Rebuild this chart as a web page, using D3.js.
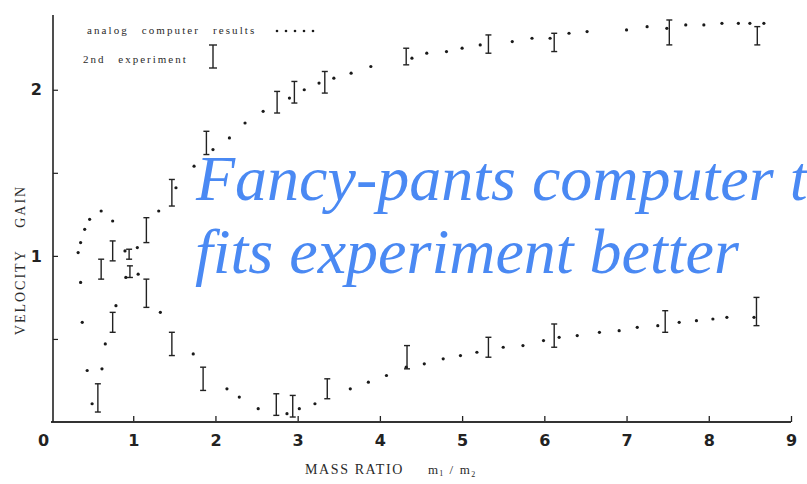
<!DOCTYPE html>
<html>
<head>
<meta charset="utf-8">
<script src="https://cdn.jsdelivr.net/npm/d3@7"></script>
<style>
  body { margin: 0; background: #fff; }
  svg { display: block; }
  .tick text { font-family: "DejaVu Sans", sans-serif; font-weight: bold; font-size: 16px; fill: #222; }
  .scan { font-family: "Liberation Serif", serif; fill: #2a2a2a; white-space: pre; }
</style>
</head>
<body>
<div id="chart"></div>
<script>
// analog computer results, branch rising to ~2.4
const upperRatio = [0.33, 0.36, 0.41, 0.47, 0.61, 0.75, 0.90, 1.05, 1.31, 1.52, 1.74, 1.97, 2.17, 2.36, 2.58, 2.90,
  3.08, 3.26, 3.44, 3.65, 3.89, 4.39, 4.57, 4.81, 5.00, 5.22, 5.61, 5.85, 6.07, 6.30, 6.52, 7.00, 7.25, 7.49,
  7.72, 7.94, 8.16, 8.36, 8.50, 8.67];
const upperGain = [1.02, 1.08, 1.16, 1.22, 1.27, 1.21, 1.03, 1.05, 1.27, 1.41, 1.54, 1.64, 1.71, 1.80, 1.87, 1.95,
  2.00, 2.04, 2.07, 2.10, 2.14, 2.19, 2.22, 2.23, 2.25, 2.27, 2.29, 2.31, 2.31, 2.34, 2.35, 2.36, 2.38, 2.37,
  2.39, 2.39, 2.40, 2.40, 2.40, 2.40];

// analog computer results, branch dipping near zero
const lowerRatio = [0.36, 0.38, 0.44, 0.50, 0.62, 0.66, 0.79, 0.91, 1.06, 1.33, 1.73, 2.14, 2.29, 2.52, 2.87, 3.02,
  3.21, 3.64, 3.86, 4.08, 4.32, 4.54, 4.77, 4.98, 5.18, 5.50, 5.74, 5.99, 6.18, 6.40, 6.67, 6.91, 7.13, 7.38,
  7.64, 7.85, 8.05, 8.22, 8.55];
const lowerGain = [0.84, 0.60, 0.31, 0.11, 0.32, 0.47, 0.70, 0.87, 0.89, 0.66, 0.41, 0.20, 0.15, 0.08, 0.05, 0.08,
  0.11, 0.20, 0.24, 0.28, 0.33, 0.35, 0.38, 0.40, 0.42, 0.45, 0.46, 0.49, 0.51, 0.52, 0.54, 0.55, 0.57, 0.58,
  0.60, 0.61, 0.62, 0.63, 0.63];

// 2nd experiment, error bars
const expRatio = [0.57, 0.75, 0.61, 0.75, 0.95, 0.96, 1.16, 1.16, 1.47, 1.47, 1.85, 1.89, 2.74, 2.94, 2.75, 2.96,
  3.36, 3.33, 4.33, 4.32, 5.32, 5.32, 6.12, 6.12, 7.47, 7.52, 8.58, 8.59];
const expLow = [0.06, 0.54, 0.86, 0.97, 0.98, 0.87, 1.08, 0.69, 1.30, 0.40, 0.19, 1.61, 0.04, 0.03, 1.86, 1.92,
  0.14, 1.98, 0.32, 2.15, 0.39, 2.22, 0.45, 2.23, 0.54, 2.27, 0.58, 2.27];
const expHigh = [0.23, 0.66, 0.98, 1.09, 1.04, 0.94, 1.23, 0.86, 1.46, 0.54, 0.33, 1.75, 0.17, 0.16, 1.99, 2.05,
  0.26, 2.11, 0.46, 2.25, 0.51, 2.33, 0.59, 2.34, 0.67, 2.42, 0.75, 2.38];

const xTicks = [0, 1, 2, 3, 4, 5, 6, 7, 8, 9];
const yTicks = [0.5, 1, 1.5, 2];
const yLabelled = [1, 2];

const W = 807, H = 484;

const svg = d3.select("#chart").append("svg")
    .attr("width", W)
    .attr("height", H);

const x = d3.scaleLinear().domain([0, 9]).range([51, 791]);
const y = d3.scaleLinear().domain([0, 2.45]).range([422, 15]);

// x axis, ticks pointing up
const xAxis = svg.append("g")
    .attr("transform", `translate(0,${y(0)})`)
    .call(d3.axisBottom(x).tickValues(xTicks).tickSize(-6).tickPadding(13).tickFormat(d3.format("d")));
xAxis.select(".domain").remove();
xAxis.selectAll(".tick line").attr("stroke", "#222").attr("stroke-width", 1.3)
    .filter(d => d === 0).remove();
xAxis.selectAll(".tick text").filter(d => d === 0).attr("dx", -8);
xAxis.append("line")
    .attr("x1", x(0)).attr("x2", x(9))
    .attr("stroke", "#333").attr("stroke-width", 2);

// y axis, ticks pointing right
const yAxis = svg.append("g")
    .attr("transform", `translate(${x(0) + 2},0)`)
    .call(d3.axisLeft(y).tickValues(yTicks).tickSize(-5).tickPadding(11)
        .tickFormat(d => yLabelled.includes(d) ? d : ""));
yAxis.select(".domain").remove();
yAxis.selectAll(".tick line").attr("stroke", "#222").attr("stroke-width", 1.2);
yAxis.append("line")
    .attr("y1", y(0)).attr("y2", y(2.45))
    .attr("stroke", "#222").attr("stroke-width", 1.6);

// axis titles
svg.append("text")
    .attr("class", "scan")
    .attr("transform", "translate(25,260) rotate(-90)")
    .attr("text-anchor", "middle")
    .style("font-size", "14px")
    .style("letter-spacing", "2px")
    .text("VELOCITY    GAIN");

const xTitle = svg.append("text")
    .attr("class", "scan")
    .attr("x", 305).attr("y", 474)
    .style("font-size", "14px")
    .style("letter-spacing", "1.6px");
xTitle.append("tspan").text("MASS RATIO");
xTitle.append("tspan").attr("x", 428).style("font-size", "13px").style("letter-spacing", "1px").text("m");
xTitle.append("tspan").attr("dy", 2).style("font-size", "8px").text("1");
xTitle.append("tspan").attr("dy", -2).style("font-size", "13px").text(" / m");
xTitle.append("tspan").attr("dy", 3).style("font-size", "8px").text("2");

// analog computer dots
const dots = svg.append("g").attr("fill", "#1a1a1a");
dots.selectAll(".up")
    .data(d3.zip(upperRatio, upperGain))
    .enter().append("circle")
    .attr("class", "up")
    .attr("cx", d => x(d[0]))
    .attr("cy", d => y(d[1]))
    .attr("r", 1.6);
dots.selectAll(".low")
    .data(d3.zip(lowerRatio, lowerGain))
    .enter().append("circle")
    .attr("class", "low")
    .attr("cx", d => x(d[0]))
    .attr("cy", d => y(d[1]))
    .attr("r", 1.6);

// experiment error bars
const bars = svg.append("g")
    .attr("stroke", "#222")
    .attr("stroke-width", 1.4)
    .selectAll("g")
    .data(expRatio.map((r, i) => ({ r, lo: expLow[i], hi: expHigh[i] })))
    .enter().append("g");
bars.append("line")
    .attr("x1", d => x(d.r)).attr("x2", d => x(d.r))
    .attr("y1", d => y(d.lo)).attr("y2", d => y(d.hi));
bars.append("line")
    .attr("x1", d => x(d.r) - 3).attr("x2", d => x(d.r) + 3)
    .attr("y1", d => y(d.lo)).attr("y2", d => y(d.lo));
bars.append("line")
    .attr("x1", d => x(d.r) - 3).attr("x2", d => x(d.r) + 3)
    .attr("y1", d => y(d.hi)).attr("y2", d => y(d.hi));

// legend
const legend = svg.append("g");
legend.append("text")
    .attr("class", "scan")
    .attr("x", 87).attr("y", 34)
    .style("font-size", "11px")
    .style("letter-spacing", "2.1px")
    .style("word-spacing", "8px")
    .text("analog computer results");
legend.selectAll("circle")
    .data(d3.range(5))
    .enter().append("circle")
    .attr("cx", i => 277 + i * 9)
    .attr("cy", 31)
    .attr("r", 1.3)
    .attr("fill", "#1a1a1a");
legend.append("text")
    .attr("class", "scan")
    .attr("x", 83).attr("y", 63)
    .style("font-size", "11px")
    .style("letter-spacing", "2px")
    .style("word-spacing", "8px")
    .text("2nd experiment");
const lb = legend.append("g").attr("stroke", "#222").attr("stroke-width", 1.4);
lb.append("line").attr("x1", 213).attr("x2", 213).attr("y1", 45).attr("y2", 68);
lb.append("line").attr("x1", 209).attr("x2", 217).attr("y1", 45).attr("y2", 45);
lb.append("line").attr("x1", 209).attr("x2", 217).attr("y1", 68).attr("y2", 68);

// overlay comment
const note = svg.append("text")
    .attr("fill", "#4a89f3")
    .style("font-family", "'Liberation Serif', 'Times New Roman', serif")
    .style("font-style", "italic")
    .style("font-size", "64px");
note.append("tspan").attr("x", 196).attr("y", 200).text("Fancy-pants computer t");
note.append("tspan").attr("x", 195).attr("y", 273).text("fits experiment better");
</script>
</body>
</html>
